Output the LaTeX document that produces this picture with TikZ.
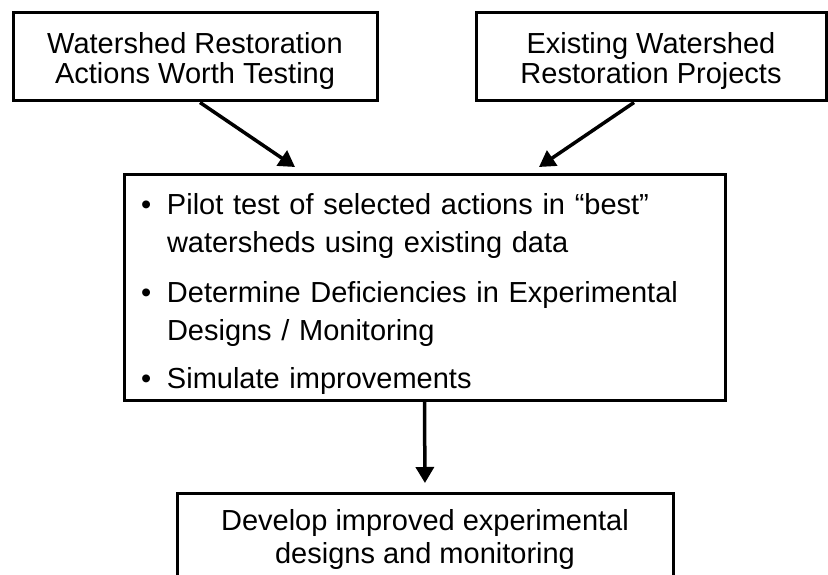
\documentclass[tikz,border=0pt]{standalone}
\usepackage{fontspec}
\setmainfont{Liberation Sans}
\usepackage{tikz}
\usetikzlibrary{arrows.meta,positioning,calc}

\begin{document}
\begin{tikzpicture}[
    box/.style={rectangle, draw, line width=3pt, minimum width=2.2cm, align=center, font=\fontsize{29pt}{30pt}\selectfont},
    arrow/.style={-{Triangle[width=18pt,length=16pt]}, line width=3.5pt}
]
\useasboundingbox (0,0) rectangle (828pt,-575pt);

% Source boxes
\node[box, minimum width=364pt, minimum height=88pt] (actions) at (195pt,-57pt) {\rule{0pt}{29pt}Watershed Restoration\\Actions Worth Testing};
\node[box, minimum width=350pt, minimum height=88pt] (projects) at (651pt,-57pt) {\rule{0pt}{29pt}Existing Watershed\\Restoration Projects};

% Pilot test box
\node[box, text width=567pt, inner xsep=17pt, minimum height=225pt, align=left, font=\fontsize{29pt}{38pt}\selectfont] (pilot) at (424.5pt,-287.5pt) {\rule{0pt}{35pt}\makebox[26pt][l]{\textbullet}Pilot test of selected actions in “best”\\\hspace*{26pt}watersheds using existing data\\[12pt]\makebox[26pt][l]{\textbullet}Determine Deficiencies in Experimental\\\hspace*{26pt}Designs / Monitoring\\[10pt]\makebox[26pt][l]{\textbullet}Simulate improvements};

% Result box
\node[box, minimum width=496pt, minimum height=92pt, font=\fontsize{29pt}{33pt}\selectfont] (develop) at (425pt,-539pt) {Develop improved experimental\\designs and monitoring};

% Arrows
\draw[arrow] ([xshift=5pt]actions.south) -- ([xshift=-129.5pt,yshift=6.5pt]pilot.north);
\draw[arrow] ([xshift=-17pt]projects.south) -- ([xshift=114.5pt,yshift=6.5pt]pilot.north);
\draw[arrow, shorten >=8.5pt] (pilot.south) -- (develop.north);

\end{tikzpicture}
\end{document}
